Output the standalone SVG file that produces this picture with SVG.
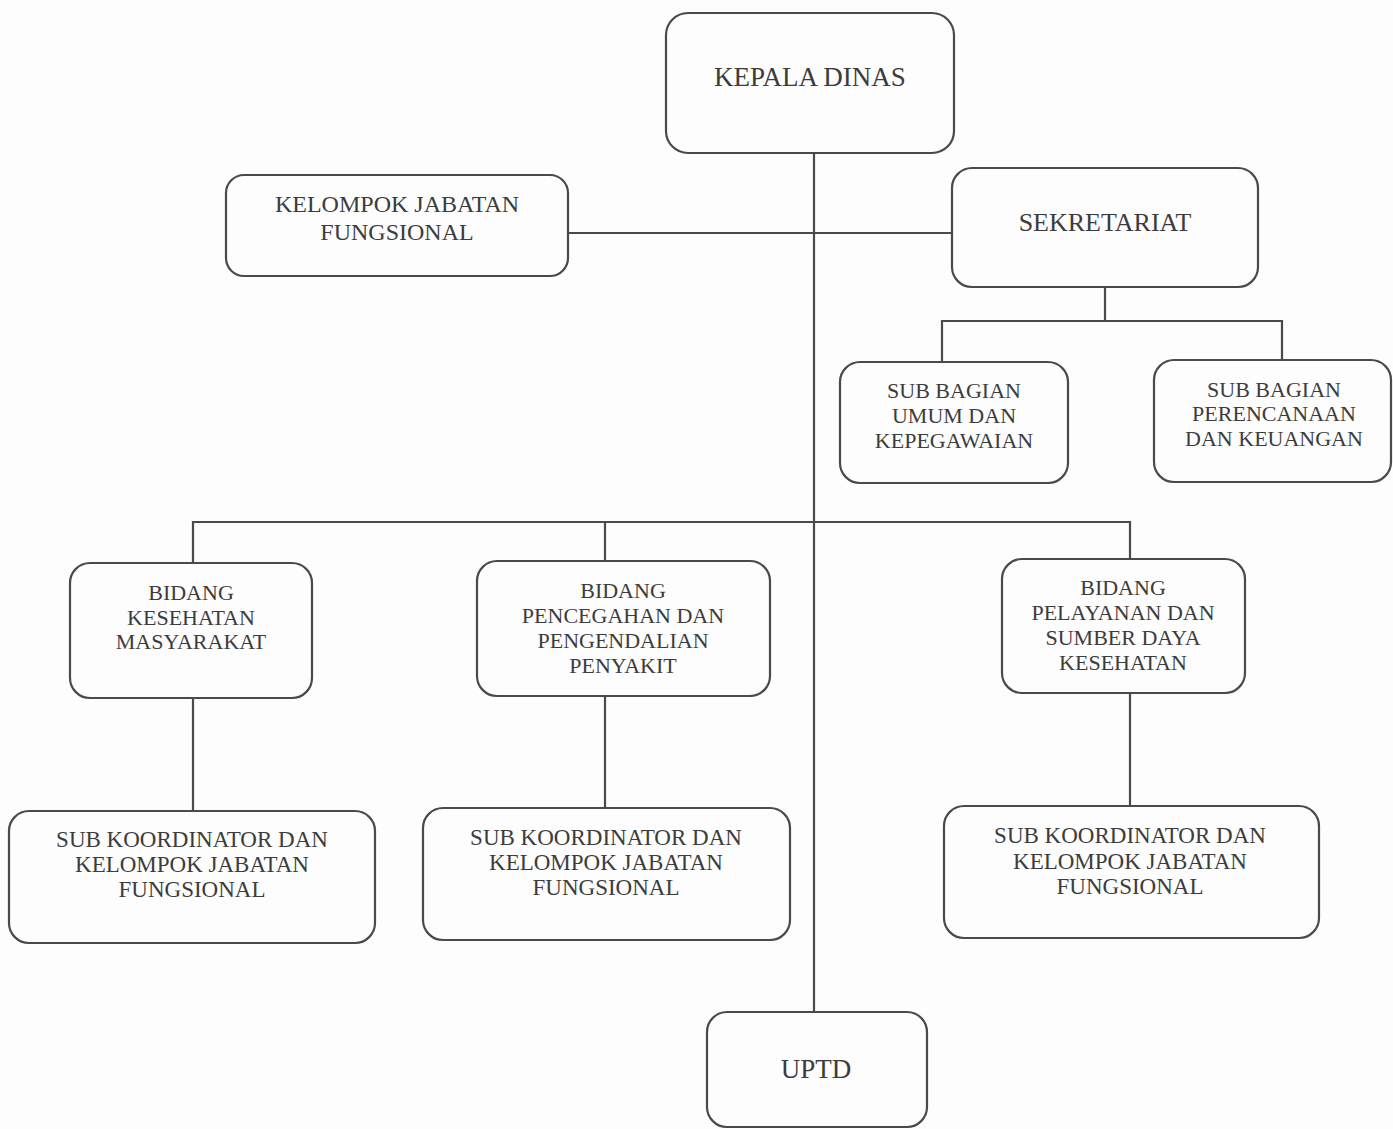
<svg xmlns="http://www.w3.org/2000/svg" width="1393" height="1129" viewBox="0 0 1393 1129">
<style>
.box{fill:none;stroke:#4a4a4a;stroke-width:2.2}
.ln{fill:none;stroke:#4a4a4a;stroke-width:2.2}
text{font-family:"Liberation Serif","Times New Roman",serif;fill:#3c3c3c;text-anchor:middle}
.t27{font-size:27px}
.t26{font-size:26px}
.t24{font-size:24px}
.t23{font-size:23px}
.t22{font-size:22px}
</style>
<rect width="1393" height="1129" fill="#fdfdfd"/>
<g id="connectors">
<line class="ln" x1="814" y1="153" x2="814" y2="1012"/>
<line class="ln" x1="568" y1="233" x2="952" y2="233"/>
<polyline class="ln" points="1105,287 1105,321"/>
<polyline class="ln" points="942,361 942,321 1282,321 1282,360"/>
<polyline class="ln" points="193,563 193,522 1130,522 1130,559"/>
<line class="ln" x1="605" y1="522" x2="605" y2="561"/>
<line class="ln" x1="193" y1="698" x2="193" y2="811"/>
<line class="ln" x1="605" y1="696" x2="605" y2="808"/>
<line class="ln" x1="1130" y1="693" x2="1130" y2="806"/>
</g>
<g id="kepala-dinas">
<rect class="box" x="666" y="13" width="288" height="140" rx="22"/>
<text class="t27" x="810" y="86">KEPALA DINAS</text>
</g>
<g id="kelompok-jabatan-fungsional">
<rect class="box" x="226" y="175" width="342" height="101" rx="18"/>
<text class="t24" x="397" y="212">KELOMPOK JABATAN</text>
<text class="t24" x="397" y="240">FUNGSIONAL</text>
</g>
<g id="sekretariat">
<rect class="box" x="952" y="168" width="306" height="119" rx="20"/>
<text class="t26" x="1105" y="231">SEKRETARIAT</text>
</g>
<g id="sub-bagian-umum">
<rect class="box" x="840" y="362" width="228" height="121" rx="20"/>
<text class="t22" x="954" y="398">SUB BAGIAN</text>
<text class="t22" x="954" y="423">UMUM DAN</text>
<text class="t22" x="954" y="448">KEPEGAWAIAN</text>
</g>
<g id="sub-bagian-perencanaan">
<rect class="box" x="1154" y="360" width="237" height="122" rx="20"/>
<text class="t22" x="1274" y="397">SUB BAGIAN</text>
<text class="t22" x="1274" y="421">PERENCANAAN</text>
<text class="t22" x="1274" y="446">DAN KEUANGAN</text>
</g>
<g id="bidang-kesmas">
<rect class="box" x="70" y="563" width="242" height="135" rx="20"/>
<text class="t22" x="191" y="600">BIDANG</text>
<text class="t22" x="191" y="625">KESEHATAN</text>
<text class="t22" x="191" y="649">MASYARAKAT</text>
</g>
<g id="bidang-p2p">
<rect class="box" x="477" y="561" width="293" height="135" rx="20"/>
<text class="t22" x="623" y="598">BIDANG</text>
<text class="t22" x="623" y="623">PENCEGAHAN DAN</text>
<text class="t22" x="623" y="648">PENGENDALIAN</text>
<text class="t22" x="623" y="673">PENYAKIT</text>
</g>
<g id="bidang-yankes">
<rect class="box" x="1002" y="559" width="243" height="134" rx="20"/>
<text class="t22" x="1123" y="595">BIDANG</text>
<text class="t22" x="1123" y="620">PELAYANAN DAN</text>
<text class="t22" x="1123" y="645">SUMBER DAYA</text>
<text class="t22" x="1123" y="670">KESEHATAN</text>
</g>
<g id="sub-koordinator-1">
<rect class="box" x="9" y="811" width="366" height="132" rx="20"/>
<text class="t23" x="192" y="847">SUB KOORDINATOR DAN</text>
<text class="t23" x="192" y="872">KELOMPOK JABATAN</text>
<text class="t23" x="192" y="897">FUNGSIONAL</text>
</g>
<g id="sub-koordinator-2">
<rect class="box" x="423" y="808" width="367" height="132" rx="20"/>
<text class="t23" x="606" y="845">SUB KOORDINATOR DAN</text>
<text class="t23" x="606" y="870">KELOMPOK JABATAN</text>
<text class="t23" x="606" y="895">FUNGSIONAL</text>
</g>
<g id="sub-koordinator-3">
<rect class="box" x="944" y="806" width="375" height="132" rx="20"/>
<text class="t23" x="1130" y="843">SUB KOORDINATOR DAN</text>
<text class="t23" x="1130" y="869">KELOMPOK JABATAN</text>
<text class="t23" x="1130" y="894">FUNGSIONAL</text>
</g>
<g id="uptd">
<rect class="box" x="707" y="1012" width="220" height="115" rx="20"/>
<text class="t27" x="816" y="1078">UPTD</text>
</g>
</svg>
